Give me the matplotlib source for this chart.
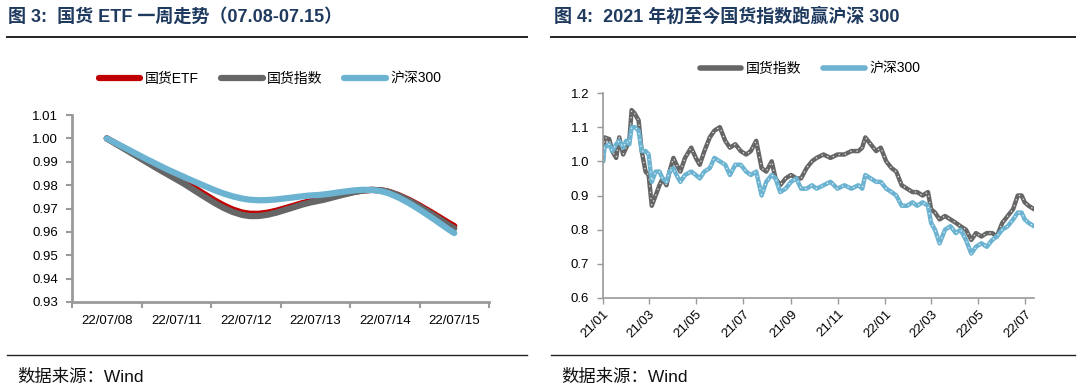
import matplotlib
matplotlib.use('Agg')
import matplotlib.pyplot as plt
import matplotlib.dates as mdates
from matplotlib.path import Path
from matplotlib.patches import PathPatch
from matplotlib.lines import Line2D
import numpy as np
import pandas as pd

plt.rcParams['font.family'] = ['Liberation Sans', 'Noto Sans CJK SC', 'DejaVu Sans']

# ---------------- data: left chart ----------------
week_labels = ['22/07/08', '22/07/11', '22/07/12', '22/07/13', '22/07/14', '22/07/15']
etf_week = [1.000, 0.9835, 0.9680, 0.9735, 0.9775, 0.9625]
index_week = [1.000, 0.9825, 0.9670, 0.9730, 0.9775, 0.9615]
hs300_week = [1.000, 0.9850, 0.9740, 0.9757, 0.9770, 0.9595]

# ---------------- data: right chart ----------------
dates = ['2021-01-04', '2021-01-06', '2021-01-12', '2021-01-16', '2021-01-21', '2021-01-25',
         '2021-01-30', '2021-02-03', '2021-02-07', '2021-02-10', '2021-02-14', '2021-02-19',
         '2021-02-23', '2021-02-28', '2021-03-04', '2021-03-08', '2021-03-13', '2021-03-18',
         '2021-03-22', '2021-03-27', '2021-03-31', '2021-04-05', '2021-04-09', '2021-04-14',
         '2021-04-20', '2021-04-28', '2021-05-04', '2021-05-09', '2021-05-15', '2021-05-22',
         '2021-05-28', '2021-06-04', '2021-06-11', '2021-06-17', '2021-06-24', '2021-07-01',
         '2021-07-08', '2021-07-14', '2021-07-21', '2021-07-28', '2021-08-03', '2021-08-10',
         '2021-08-15', '2021-08-21', '2021-08-28', '2021-09-04', '2021-09-11', '2021-09-17',
         '2021-09-24', '2021-10-01', '2021-10-07', '2021-10-16', '2021-10-25', '2021-11-03',
         '2021-11-12', '2021-11-21', '2021-11-30', '2021-12-05', '2021-12-09', '2021-12-16',
         '2021-12-23', '2021-12-29', '2022-01-05', '2022-01-12', '2022-01-18', '2022-01-25',
         '2022-02-01', '2022-02-08', '2022-02-14', '2022-02-21', '2022-02-28', '2022-03-04',
         '2022-03-09', '2022-03-15', '2022-03-22', '2022-03-29', '2022-04-05', '2022-04-11',
         '2022-04-18', '2022-04-25', '2022-05-01', '2022-05-08', '2022-05-15', '2022-05-22',
         '2022-05-28', '2022-06-04', '2022-06-11', '2022-06-18', '2022-06-24', '2022-06-29',
         '2022-07-03', '2022-07-08', '2022-07-15']
guohuo_index = [1.00, 1.07, 1.065, 1.03, 1.01, 1.07, 1.02, 1.04, 1.06, 1.15, 1.14, 1.12,
                1.03, 0.97, 0.96, 0.87, 0.90, 0.93, 0.95, 0.93, 0.97, 1.01, 0.99, 0.97,
                1.01, 1.04, 1.01, 0.99, 1.03, 1.07, 1.09, 1.10, 1.06, 1.04, 1.05, 1.03,
                1.02, 1.03, 1.06, 0.98, 0.97, 1.00, 0.95, 0.93, 0.95, 0.96, 0.95, 0.95,
                0.98, 1.00, 1.01, 1.02, 1.01, 1.02, 1.02, 1.03, 1.03, 1.04, 1.07, 1.05,
                1.03, 1.04, 1.00, 0.98, 0.97, 0.93, 0.92, 0.91, 0.91, 0.90, 0.91, 0.86,
                0.85, 0.83, 0.84, 0.83, 0.82, 0.81, 0.80, 0.77, 0.79, 0.78, 0.79, 0.79,
                0.78, 0.82, 0.84, 0.86, 0.90, 0.90, 0.88, 0.87, 0.86]
hs300 = [1.00, 1.04, 1.05, 1.03, 1.05, 1.06, 1.04, 1.06, 1.05, 1.10, 1.10, 1.09,
         1.03, 1.03, 1.02, 0.94, 0.97, 0.97, 0.95, 0.94, 0.97, 0.98, 0.96, 0.94,
         0.96, 0.97, 0.96, 0.95, 0.97, 0.98, 1.01, 1.00, 0.99, 0.96, 0.99, 0.99,
         0.97, 0.96, 0.97, 0.90, 0.94, 0.96, 0.95, 0.91, 0.92, 0.94, 0.95, 0.92,
         0.92, 0.93, 0.92, 0.93, 0.94, 0.92, 0.93, 0.92, 0.93, 0.92, 0.96, 0.95,
         0.94, 0.94, 0.92, 0.91, 0.90, 0.87, 0.87, 0.88, 0.87, 0.88, 0.87, 0.82,
         0.80, 0.76, 0.80, 0.81, 0.79, 0.80, 0.77, 0.73, 0.75, 0.76, 0.75, 0.77,
         0.78, 0.80, 0.81, 0.83, 0.85, 0.85, 0.83, 0.82, 0.81]
month_ticks = ['2021-01-04', '2021-03-04', '2021-05-04', '2021-07-04', '2021-09-04',
               '2021-11-04', '2022-01-04', '2022-03-04', '2022-05-04', '2022-07-04']

RED = '#C00000'
GRAY = '#666666'
BLUE = '#6CB3D1'
NAVY = '#1F3A5F'
AXIS = '#9A9A9A'

fig = plt.figure(figsize=(10.8, 3.92), dpi=100)

# ---------- titles, rules and sources ----------
fig.text(8 / 1080, 1 - 17 / 392, '图 3:  国货 ETF 一周走势（07.08-07.15）', fontsize=13,
         fontweight='bold', color=NAVY, va='center', ha='left')
fig.text(554 / 1080, 1 - 17 / 392, '图 4:  2021 年初至今国货指数跑赢沪深 300', fontsize=13,
         fontweight='bold', color=NAVY, va='center', ha='left')
for x0, x1 in [(7, 527), (551, 1075)]:
    fig.add_artist(Line2D([x0 / 1080, x1 / 1080], [1 - 37 / 392] * 2, color='#222222', lw=1.4))
    fig.add_artist(Line2D([x0 / 1080, x1 / 1080], [1 - 355 / 392] * 2, color='#222222', lw=1.0))
fig.text(17 / 1080, 1 - 377 / 392, '数据来源：Wind', fontsize=12.5, color='#111111', va='center')
fig.text(561 / 1080, 1 - 377 / 392, '数据来源：Wind', fontsize=12.5, color='#111111', va='center')


def smooth_path(xs, ys):
    pts = np.column_stack([xs, ys]).astype(float)
    n = len(pts)
    verts = [pts[0]]
    codes = [Path.MOVETO]
    for i in range(n - 1):
        p0 = pts[i - 1] if i > 0 else pts[i]
        p1 = pts[i]
        p2 = pts[i + 1]
        p3 = pts[i + 2] if i + 2 < n else pts[i + 1]
        c1 = p1 + (p2 - p0) / 6.0
        c2 = p2 - (p3 - p1) / 6.0
        verts += [c1, c2, p2]
        codes += [Path.CURVE4] * 3
    return Path(verts, codes)


# ---------- left chart ----------
ax1 = fig.add_axes([72 / 1080, 1 - 302 / 392, (489 - 72) / 1080, (302 - 115) / 392])
xpos = np.arange(len(week_labels))
for vals, col, lw in [(etf_week, RED, 4.5), (index_week, GRAY, 4.5), (hs300_week, BLUE, 4.5)]:
    patch = PathPatch(smooth_path(xpos, vals), facecolor='none', edgecolor=col, lw=lw,
                      capstyle='round', joinstyle='round')
    ax1.add_patch(patch)
ax1.set_xlim(-0.5, len(week_labels) - 0.5)
ax1.set_ylim(0.93, 1.01)
ax1.set_yticks(np.arange(0.93, 1.0101, 0.01))
ax1.yaxis.set_major_formatter(matplotlib.ticker.FormatStrFormatter('%.2f'))
ax1.set_xticks(np.arange(-0.5, len(week_labels), 1.0))
ax1.set_xticklabels([])
ax1.set_xticks(xpos, minor=True)
ax1.set_xticklabels(week_labels, minor=True)
ax1.tick_params(axis='x', which='minor', length=0, pad=9, labelsize=9.5)
ax1.tick_params(axis='x', which='major', length=4, width=1.5, color=AXIS, direction='out')
ax1.tick_params(axis='y', length=4, width=1.5, color=AXIS, labelsize=9.5, pad=6)
for s in ['top', 'right']:
    ax1.spines[s].set_visible(False)
for s in ['left', 'bottom']:
    ax1.spines[s].set_color(AXIS)
    ax1.spines[s].set_linewidth(2.0)
ax1.patch.set_alpha(0)

h1 = [Line2D([], [], color=RED, lw=4.5, solid_capstyle='round'),
      Line2D([], [], color=GRAY, lw=4.5, solid_capstyle='round'),
      Line2D([], [], color=BLUE, lw=4.5, solid_capstyle='round')]
fig.legend(h1, ['国货ETF', '国货指数', '沪深300'], loc='center', ncol=3,
           bbox_to_anchor=(270 / 1080, 1 - 79 / 392), frameon=False, fontsize=10,
           handlelength=3.0, handletextpad=0.3, columnspacing=1.6)

# ---------- right chart ----------
ax2 = fig.add_axes([603 / 1080, 1 - 298 / 392, (1034 - 603) / 1080, (298 - 93) / 392])
dt = pd.to_datetime(dates)
ax2.plot(dt, guohuo_index, color=GRAY, lw=3.2, solid_joinstyle='round', solid_capstyle='round')
ax2.plot(dt, guohuo_index, color='white', lw=0.9, ls=(0, (1, 4)), alpha=0.85)
ax2.plot(dt, hs300, color=BLUE, lw=3.2, solid_joinstyle='round', solid_capstyle='round')
ax2.plot(dt, hs300, color='white', lw=0.9, ls=(0, (1, 4)), alpha=0.85)
ax2.set_xlim(pd.Timestamp('2021-01-04'), pd.Timestamp('2022-07-15'))
ax2.set_ylim(0.6, 1.2)
ax2.set_yticks(np.arange(0.6, 1.201, 0.1))
ax2.yaxis.set_major_formatter(matplotlib.ticker.FormatStrFormatter('%.1f'))
ax2.set_xticks(pd.to_datetime(month_ticks))
ax2.xaxis.set_major_formatter(mdates.DateFormatter('%y/%m'))
for lab in ax2.get_xticklabels():
    lab.set_rotation(45)
    lab.set_ha('right')
    lab.set_rotation_mode('anchor')
ax2.tick_params(axis='x', length=4, width=1.0, color=AXIS, labelsize=9.5, pad=3)
ax2.tick_params(axis='y', length=4, width=1.0, color=AXIS, labelsize=9.5, pad=6)
for s in ['top', 'right']:
    ax2.spines[s].set_visible(False)
for s in ['left', 'bottom']:
    ax2.spines[s].set_color(AXIS)
    ax2.spines[s].set_linewidth(1.2)
ax2.patch.set_alpha(0)

h2 = [Line2D([], [], color=GRAY, lw=4.0, solid_capstyle='round'),
      Line2D([], [], color=BLUE, lw=4.0, solid_capstyle='round')]
fig.legend(h2, ['国货指数', '沪深300'], loc='center', ncol=2,
           bbox_to_anchor=(810 / 1080, 1 - 69 / 392), frameon=False, fontsize=10,
           handlelength=3.0, handletextpad=0.3, columnspacing=1.6)

fig.savefig('out.png', dpi=100)
